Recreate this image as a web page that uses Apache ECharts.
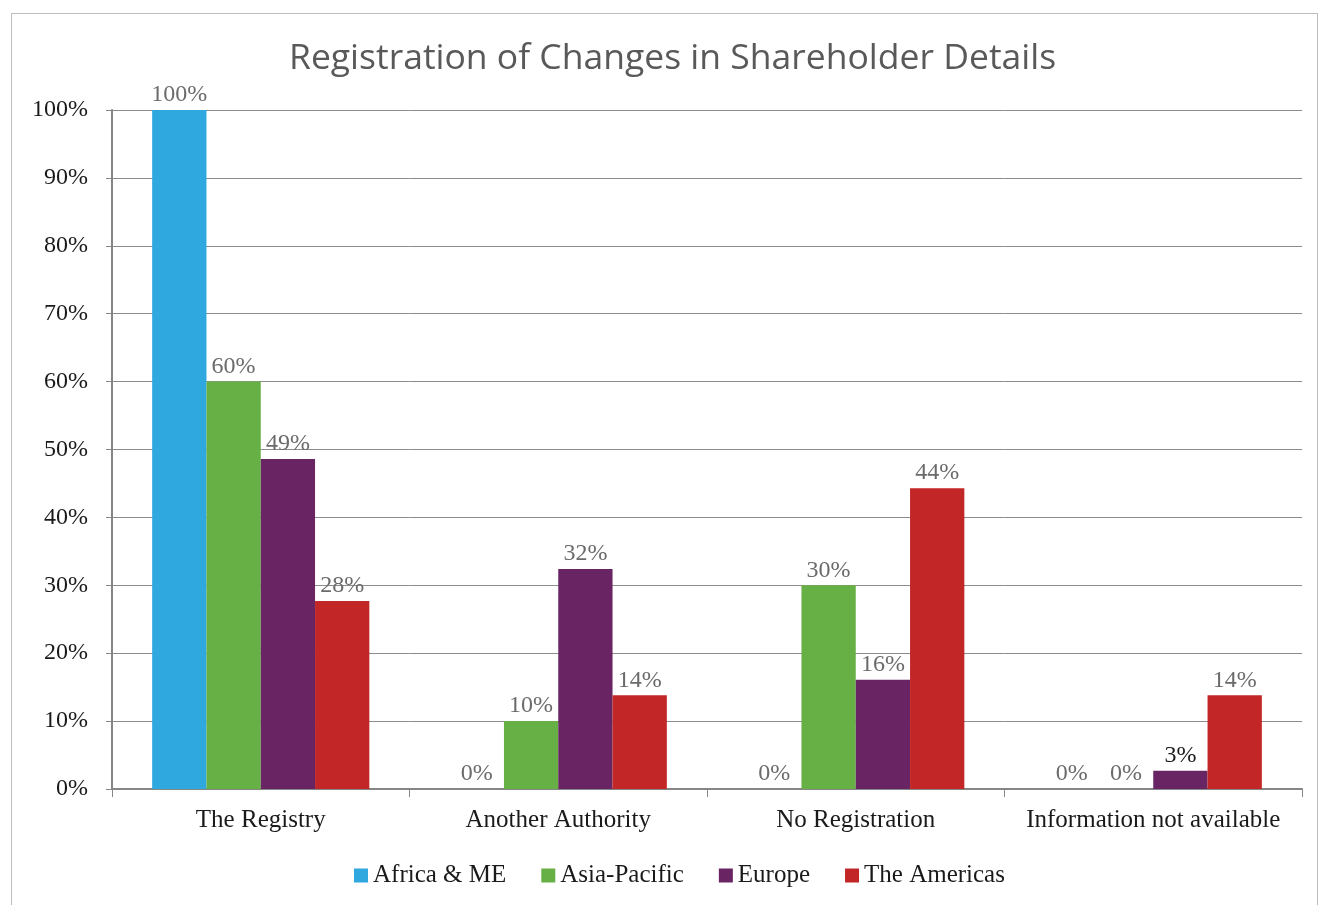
<!DOCTYPE html>
<html>
<head>
<meta charset="utf-8">
<script src="https://cdn.jsdelivr.net/npm/echarts@6/dist/echarts.min.js"></script>
<style>
  html, body { margin: 0; padding: 0; background: #fff; }
  #frame { position: absolute; left: 11px; top: 13px; width: 1305px; height: 905px; border: 1px solid #bdbdbd; }
  #chart { position: absolute; left: 0; top: 0; width: 1319px; height: 905px; }
</style>
</head>
<body>
<div id="frame"></div>
<div id="chart"></div>
<script>
const categories = ['The Registry', 'Another Authority', 'No Registration', 'Information not available'];
const seriesNames = ['Africa & ME', 'Asia-Pacific', 'Europe', 'The Americas'];
const africaME = [100, 0, 0, 0];
const asiaPacific = [60, 10, 30, 0];
const europe = [48.6, 32.4, 16.1, 2.7];
const americas = [27.7, 13.8, 44.3, 13.8];
const colors = ['#2fa7df', '#67b046', '#692463', '#c22627'];

const serif = "'Liberation Serif', 'DejaVu Serif', serif";

function makeSeries(name, values, color) {
  return {
    name: name,
    type: 'bar',
    barGap: '0%',
    barCategoryGap: '27%',
    data: values.map(function (v) {
      // the small Europe bar has a dark label in the original
      if (name === 'Europe' && v < 5) {
        return { value: v, label: { color: '#1a1a1a' } };
      }
      return v;
    }),
    itemStyle: { color: color },
    label: {
      show: true,
      position: 'top',
      distance: 3,
      fontFamily: serif,
      fontSize: 24,
      color: '#6b6b6b',
      formatter: function (p) { return Math.round(p.value) + '%'; }
    }
  };
}

const myChart = echarts.init(document.getElementById('chart'), null, { renderer: 'canvas' });
const option = {
  animation: false,
  backgroundColor: 'transparent',
  title: {
    text: 'Registration of Changes in Shareholder Details',
    left: 284,
    top: 36,
    textStyle: {
      fontFamily: "'Open Sans', 'Lato', sans-serif",
      fontWeight: 'normal',
      fontSize: 35.5,
      color: '#595959'
    }
  },
  legend: {
    bottom: 12,
    left: 349,
    icon: 'rect',
    itemWidth: 14,
    itemHeight: 14,
    itemGap: 35,
    textStyle: { fontFamily: serif, fontSize: 25, color: '#1a1a1a' },
    data: seriesNames
  },
  grid: { left: 112, right: 17, top: 110, bottom: 116 },
  xAxis: {
    type: 'category',
    data: categories,
    axisLine: { lineStyle: { color: '#868686', width: 2 } },
    axisTick: { show: true, interval: 0, length: 8, lineStyle: { color: '#868686' } },
    axisLabel: { interval: 0, margin: 19, fontFamily: serif, fontSize: 25, color: '#1a1a1a' }
  },
  yAxis: {
    type: 'value',
    min: 0,
    max: 100,
    interval: 10,
    axisLine: { show: true, lineStyle: { color: '#868686', width: 2 } },
    axisTick: { show: true, length: 6, lineStyle: { color: '#868686' } },
    axisLabel: { margin: 24, fontFamily: serif, fontSize: 24, color: '#1a1a1a', formatter: '{value}%' },
    splitLine: { lineStyle: { color: '#8c8c8c', width: 1 } }
  },
  series: [
    makeSeries(seriesNames[0], africaME, colors[0]),
    makeSeries(seriesNames[1], asiaPacific, colors[1]),
    makeSeries(seriesNames[2], europe, colors[2]),
    makeSeries(seriesNames[3], americas, colors[3])
  ]
};
myChart.setOption(option);
</script>
</body>
</html>
